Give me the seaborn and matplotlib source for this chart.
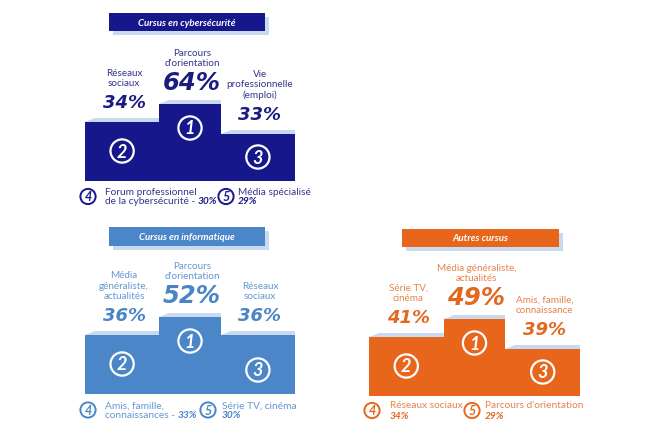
import numpy as np
import pandas as pd
import matplotlib.pyplot as plt
import seaborn as sns
from matplotlib.patches import Rectangle, Polygon

###### Données (ordre : 1er, 2e, 3e puis 4e, 5e)

cyber_title = "Cursus en cybersécurité"
cyber_labels = ["Parcours\nd'orientation", "Réseaux\nsociaux", "Vie\nprofessionnelle\n(emploi)"]
cyber_values = [64, 34, 33]
cyber_more_labels = ["Forum professionnel\nde la cybersécurité", "Média spécialisé"]
cyber_more_values = [30, 29]

info_title = "Cursus en informatique"
info_labels = ["Parcours\nd'orientation", "Média\ngénéraliste,\nactualités", "Réseaux\nsociaux"]
info_values = [52, 36, 36]
info_more_labels = ["Amis, famille,\nconnaissances", "Série TV, cinéma"]
info_more_values = [33, 30]

autres_title = "Autres cursus"
autres_labels = ["Média généraliste,\nactualités", "Série TV,\ncinéma", "Amis, famille,\nconnaissance"]
autres_values = [49, 41, 39]
autres_more_labels = ["Réseaux sociaux", "Parcours d'orientation"]
autres_more_values = [34, 29]

###### Style du podium

W, H = 664, 435
step_px = {1: 77, 2: 59, 3: 47}      # hauteur de marche selon le rang
podium_order = [1, 0, 2]             # gauche = 2e, centre = 1er, droite = 3e
slot_names = ['2', '1', '3']
slot_widths = [1.0, 0.83, 1.0]
circle_px = [30, 53, 24]             # hauteur des pastilles au-dessus du sol
strip_color = '#c9d9ef'
pct_font = ['DejaVu Sans']

sns.set_theme(style='white')
plt.rcParams['font.family'] = ['Lato', 'DejaVu Sans']

fig = plt.figure(figsize=(W / 100, H / 100), dpi=100)
fig.patch.set_facecolor('white')

# calque en pixels pour titres et lignes 4 / 5
over = fig.add_axes([0, 0, 1, 1])
over.set_xlim(0, W)
over.set_ylim(H, 0)
over.axis('off')


def draw_panel(title, labels, values, more_labels, more_values, col, geo):
    x0, x1, base = geo['bars']
    ax = fig.add_axes([x0 / W, (H - base) / H, (x1 - x0) / W, 100 / H])
    ranks = pd.Series(values).rank(method='min', ascending=False).astype(int).tolist()
    df = pd.DataFrame({
        'slot': slot_names,
        'step': [step_px[ranks[i]] for i in podium_order],
    })
    sns.barplot(data=df, x='slot', y='step', order=slot_names, color=col['bar'],
                saturation=1, width=1, ax=ax, edgecolor='none', zorder=2)

    # largeurs des marches
    left = -0.5
    for p, w in zip(ax.patches, slot_widths):
        p.set_x(left)
        p.set_width(w)
        left += w
    ax.set_xlim(-0.5, left)
    ax.set_ylim(0, 100)
    ax.axis('off')
    px_x = (x1 - x0) / (left + 0.5)

    for k, (p, i) in enumerate(zip(ax.patches, podium_order)):
        xa, w, h = p.get_x(), p.get_width(), p.get_height()
        cx = xa + w / 2
        # dessus de marche en perspective
        ax.add_patch(Polygon([(xa, h), (xa + w, h), (xa + w, h + 4), (xa + 10 / px_x, h + 4)],
                             closed=True, fc=strip_color, ec='none', zorder=1, clip_on=False))
        # pastille numérotée
        ax.scatter([cx], [circle_px[k]], s=280, facecolors='none', edgecolors='white',
                   linewidths=1.6, zorder=3, clip_on=False)
        ax.text(cx, circle_px[k], slot_names[k], color='white', fontsize=13,
                fontweight='bold', fontstyle='italic', ha='center', va='center', zorder=4)
        big = (k == 1)
        off = 22 if big else 20
        ax.annotate(f"{values[i]}%", xy=(cx, h), xytext=(2, off), textcoords='offset pixels',
                    ha='center', va='center', fontsize=17.5 if big else 13,
                    fontweight='bold', fontstyle='italic', color=col['pct'],
                    family=pct_font, annotation_clip=False)
        ax.annotate(labels[i], xy=(cx, h), xytext=(2, off + 15), textcoords='offset pixels',
                    ha='center', va='bottom', fontsize=7.1, linespacing=1.18,
                    color=col['label'], annotation_clip=False)

    # bandeau de titre
    tx, ty, tw, th = geo['title']
    over.add_patch(Rectangle((tx + 4, ty + 4), tw, th, fc=strip_color, ec='none'))
    over.add_patch(Rectangle((tx, ty), tw, th, fc=col['bar'], ec='none'))
    over.text(tx + tw / 2, ty + th / 2, title, color='white', fontsize=7,
              fontweight='bold', fontstyle='italic', ha='center', va='center')

    # 4e et 5e
    y1, y2 = geo['lines']
    for n, lab, val, (ccx, tlx) in zip(['4', '5'], more_labels, more_values, geo['items']):
        cy = (y1 + y2) / 2
        over.scatter([ccx], [cy], s=120, facecolors='none', edgecolors=col['bar'], linewidths=1.4)
        over.text(ccx, cy, n, color=col['bar'], fontsize=9, fontweight='bold',
                  fontstyle='italic', ha='center', va='center')
        parts = lab.split('\n')
        over.text(tlx, y1, parts[0], color=col['label'], fontsize=7.3, ha='left', va='center')
        if len(parts) > 1:
            t2 = over.text(tlx, y2, parts[1] + ' - ', color=col['label'], fontsize=7.3,
                           ha='left', va='center')
            over.annotate(f"{val}%", xy=(1, 0), xycoords=t2, ha='left', va='bottom',
                          fontsize=7.3, fontweight='bold', fontstyle='italic', color=col['pct'])
        else:
            over.text(tlx, y2, f"{val}%", color=col['pct'], fontsize=7.3, fontweight='bold',
                      fontstyle='italic', ha='left', va='center')


cyber_col = {'bar': '#17178c', 'pct': '#1c1c80', 'label': '#34348a'}
info_col = {'bar': '#4a86c8', 'pct': '#4a84c6', 'label': '#6496d2'}
autres_col = {'bar': '#e8661c', 'pct': '#e2681f', 'label': '#e4844a'}

draw_panel(cyber_title, cyber_labels, cyber_values, cyber_more_labels, cyber_more_values, cyber_col,
           {'bars': (85, 295, 182), 'title': (109, 14, 156, 18), 'lines': (193, 202),
            'items': [(88, 105), (226, 238)]})
draw_panel(info_title, info_labels, info_values, info_more_labels, info_more_values, info_col,
           {'bars': (85, 295, 395), 'title': (109, 228, 156, 19), 'lines': (406, 416),
            'items': [(88, 105), (208, 222)]})
draw_panel(autres_title, autres_labels, autres_values, autres_more_labels, autres_more_values, autres_col,
           {'bars': (369, 580, 397), 'title': (402, 230, 157, 18), 'lines': (406, 417),
            'items': [(372, 390), (472, 485)]})

fig.savefig('out.png', dpi=100)
